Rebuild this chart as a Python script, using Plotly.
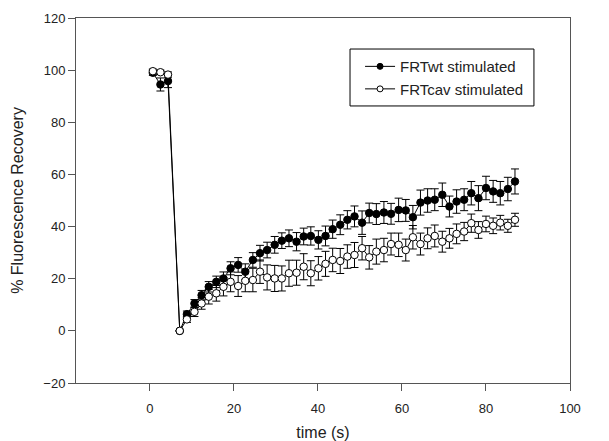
import plotly.graph_objects as go

# time points (s)
time_pre = [0.7, 2.5, 4.3]
time_post = [7.1, 8.8, 10.6, 12.3, 14.0, 15.8, 17.5, 19.2, 21.0, 22.7, 24.5, 26.2,
             27.9, 29.7, 31.4, 33.1, 34.9, 36.6, 38.3, 40.1, 41.8, 43.5, 45.3, 47.0,
             48.7, 50.5, 52.2, 53.9, 55.7, 57.4, 59.2, 60.9, 62.6, 64.4, 66.1, 67.8,
             69.6, 71.3, 73.0, 74.8, 76.5, 78.2, 80.0, 81.7, 83.4, 85.2, 86.9]

wt_pre = [99.0, 94.5, 95.8]
wt_post = [0, 6.4, 10.5, 13.7, 16.9, 18.8, 20.1, 24.0, 25.3, 22.7, 27.2, 29.8,
           31.0, 33.0, 34.6, 35.5, 34.2, 36.2, 36.4, 34.9, 36.4, 39.0, 40.7, 42.6,
           43.9, 41.5, 45.2, 44.8, 45.4, 44.9, 46.4, 46.2, 43.6, 49.2, 50.0, 50.3,
           52.2, 47.7, 49.6, 50.3, 52.8, 50.9, 54.8, 53.5, 52.8, 54.4, 57.3]
wt_err_pre = [1.0, 2.5, 2.5]
wt_err_post = [0, 1.2, 1.5, 1.8, 2.0, 2.2, 2.5, 2.5, 2.8, 3.0, 2.8, 3.0, 3.0, 3.2,
               3.0, 3.2, 3.5, 3.2, 3.5, 3.5, 3.8, 3.5, 3.8, 3.5, 4.0, 4.5, 3.8, 4.0,
               4.2, 4.0, 4.5, 4.2, 4.5, 4.8, 4.5, 4.2, 4.5, 4.0, 4.5, 4.2, 4.5, 4.8,
               4.5, 4.2, 4.5, 4.5, 4.8]

cav_pre = [99.6, 99.2, 98.3]
cav_post = [0, 4.4, 7.3, 10.5, 13.1, 14.4, 16.9, 18.8, 17.2, 19.2, 19.5, 22.7,
            20.5, 20.1, 20.1, 22.1, 22.3, 24.6, 22.1, 24.0, 25.7, 27.2, 26.8, 28.5,
            29.1, 31.7, 28.2, 30.4, 31.0, 33.3, 33.0, 31.0, 35.9, 33.3, 35.5, 36.4,
            34.2, 35.5, 37.2, 38.1, 41.3, 38.7, 41.0, 40.3, 41.5, 40.3, 42.6]
cav_err_pre = [0.8, 0.8, 1.0]
cav_err_post = [0, 1.2, 1.8, 2.2, 2.8, 3.0, 3.5, 3.8, 4.0, 4.2, 4.5, 4.5, 4.8, 5.0,
                4.8, 5.0, 4.8, 5.0, 4.8, 4.5, 4.8, 4.5, 4.8, 4.5, 4.8, 4.5, 4.5, 4.8,
                4.5, 4.2, 4.5, 4.2, 4.5, 4.2, 4.0, 4.2, 4.0, 3.8, 3.8, 3.5, 3.5, 3.2,
                3.0, 3.0, 2.8, 2.5, 2.5]

series_names = ["FRTwt stimulated", "FRTcav stimulated"]
x_ticks = [0, 20, 40, 60, 80, 100]
y_ticks = [-20, 0, 20, 40, 60, 80, 100, 120]

time = time_pre + time_post
wt = wt_pre + wt_post
wt_err = wt_err_pre + wt_err_post
cav = cav_pre + cav_post
cav_err = cav_err_pre + cav_err_post

FONT = "Liberation Sans, Arial, sans-serif"
TXT = "#222222"

fig = go.Figure()
fig.add_trace(go.Scatter(
    x=time, y=wt, name=series_names[0], mode="lines+markers", showlegend=False,
    line=dict(color="black", width=1),
    marker=dict(symbol="circle", size=7.5, color="black", line=dict(color="black", width=1)),
    error_y=dict(type="data", array=wt_err, visible=True, color="black", thickness=1, width=4),
))
fig.add_trace(go.Scatter(
    x=time, y=cav, name=series_names[1], mode="lines+markers", showlegend=False,
    line=dict(color="black", width=1),
    marker=dict(symbol="circle", size=7.5, color="white", line=dict(color="black", width=1)),
    error_y=dict(type="data", array=cav_err, visible=True, color="black", thickness=1, width=4),
))
# legend-only entries (thin line, small marker as in the reference legend)
fig.add_trace(go.Scatter(
    x=[None], y=[None], name=series_names[0], mode="lines+markers",
    line=dict(color="black", width=1),
    marker=dict(symbol="circle", size=6, color="black", line=dict(color="black", width=1)),
))
fig.add_trace(go.Scatter(
    x=[None], y=[None], name=series_names[1], mode="lines+markers",
    line=dict(color="black", width=1),
    marker=dict(symbol="circle", size=6, color="white", line=dict(color="black", width=1)),
))

axis_common = dict(
    showgrid=False, zeroline=False, showline=True, linecolor="#555555", linewidth=1,
    mirror=True, ticks="outside", ticklen=7, tickwidth=1, tickcolor="#555555",
    tickfont=dict(family=FONT, size=13, color=TXT), automargin=False,
)

fig.update_layout(
    width=609, height=441,
    margin=dict(l=76, r=39, t=18, b=58),
    paper_bgcolor="white", plot_bgcolor="white",
    showlegend=True,
    legend=dict(
        x=0.575, y=0.912, xanchor="left", yanchor="top",
        borderwidth=0, bgcolor="rgba(0,0,0,0)",
        font=dict(family=FONT, size=15, color=TXT),
        tracegroupgap=0,
    ),
    shapes=[dict(type="rect", xref="paper", yref="paper",
                 x0=0.5547, x1=0.927, y0=0.759, y1=0.915,
                 line=dict(color="black", width=1), fillcolor="rgba(0,0,0,0)")],
    xaxis=dict(
        range=[-17.6, 100], tickvals=x_ticks,
        title=dict(text="time (s)", font=dict(family=FONT, size=16, color=TXT)),
        ticklabelstandoff=6,
        **axis_common,
    ),
    yaxis=dict(
        range=[-20, 120], tickvals=y_ticks,
        title=dict(text="% Fluorescence Recovery", font=dict(family=FONT, size=16, color=TXT)),
        **axis_common,
    ),
)

fig.write_html("out.html")
